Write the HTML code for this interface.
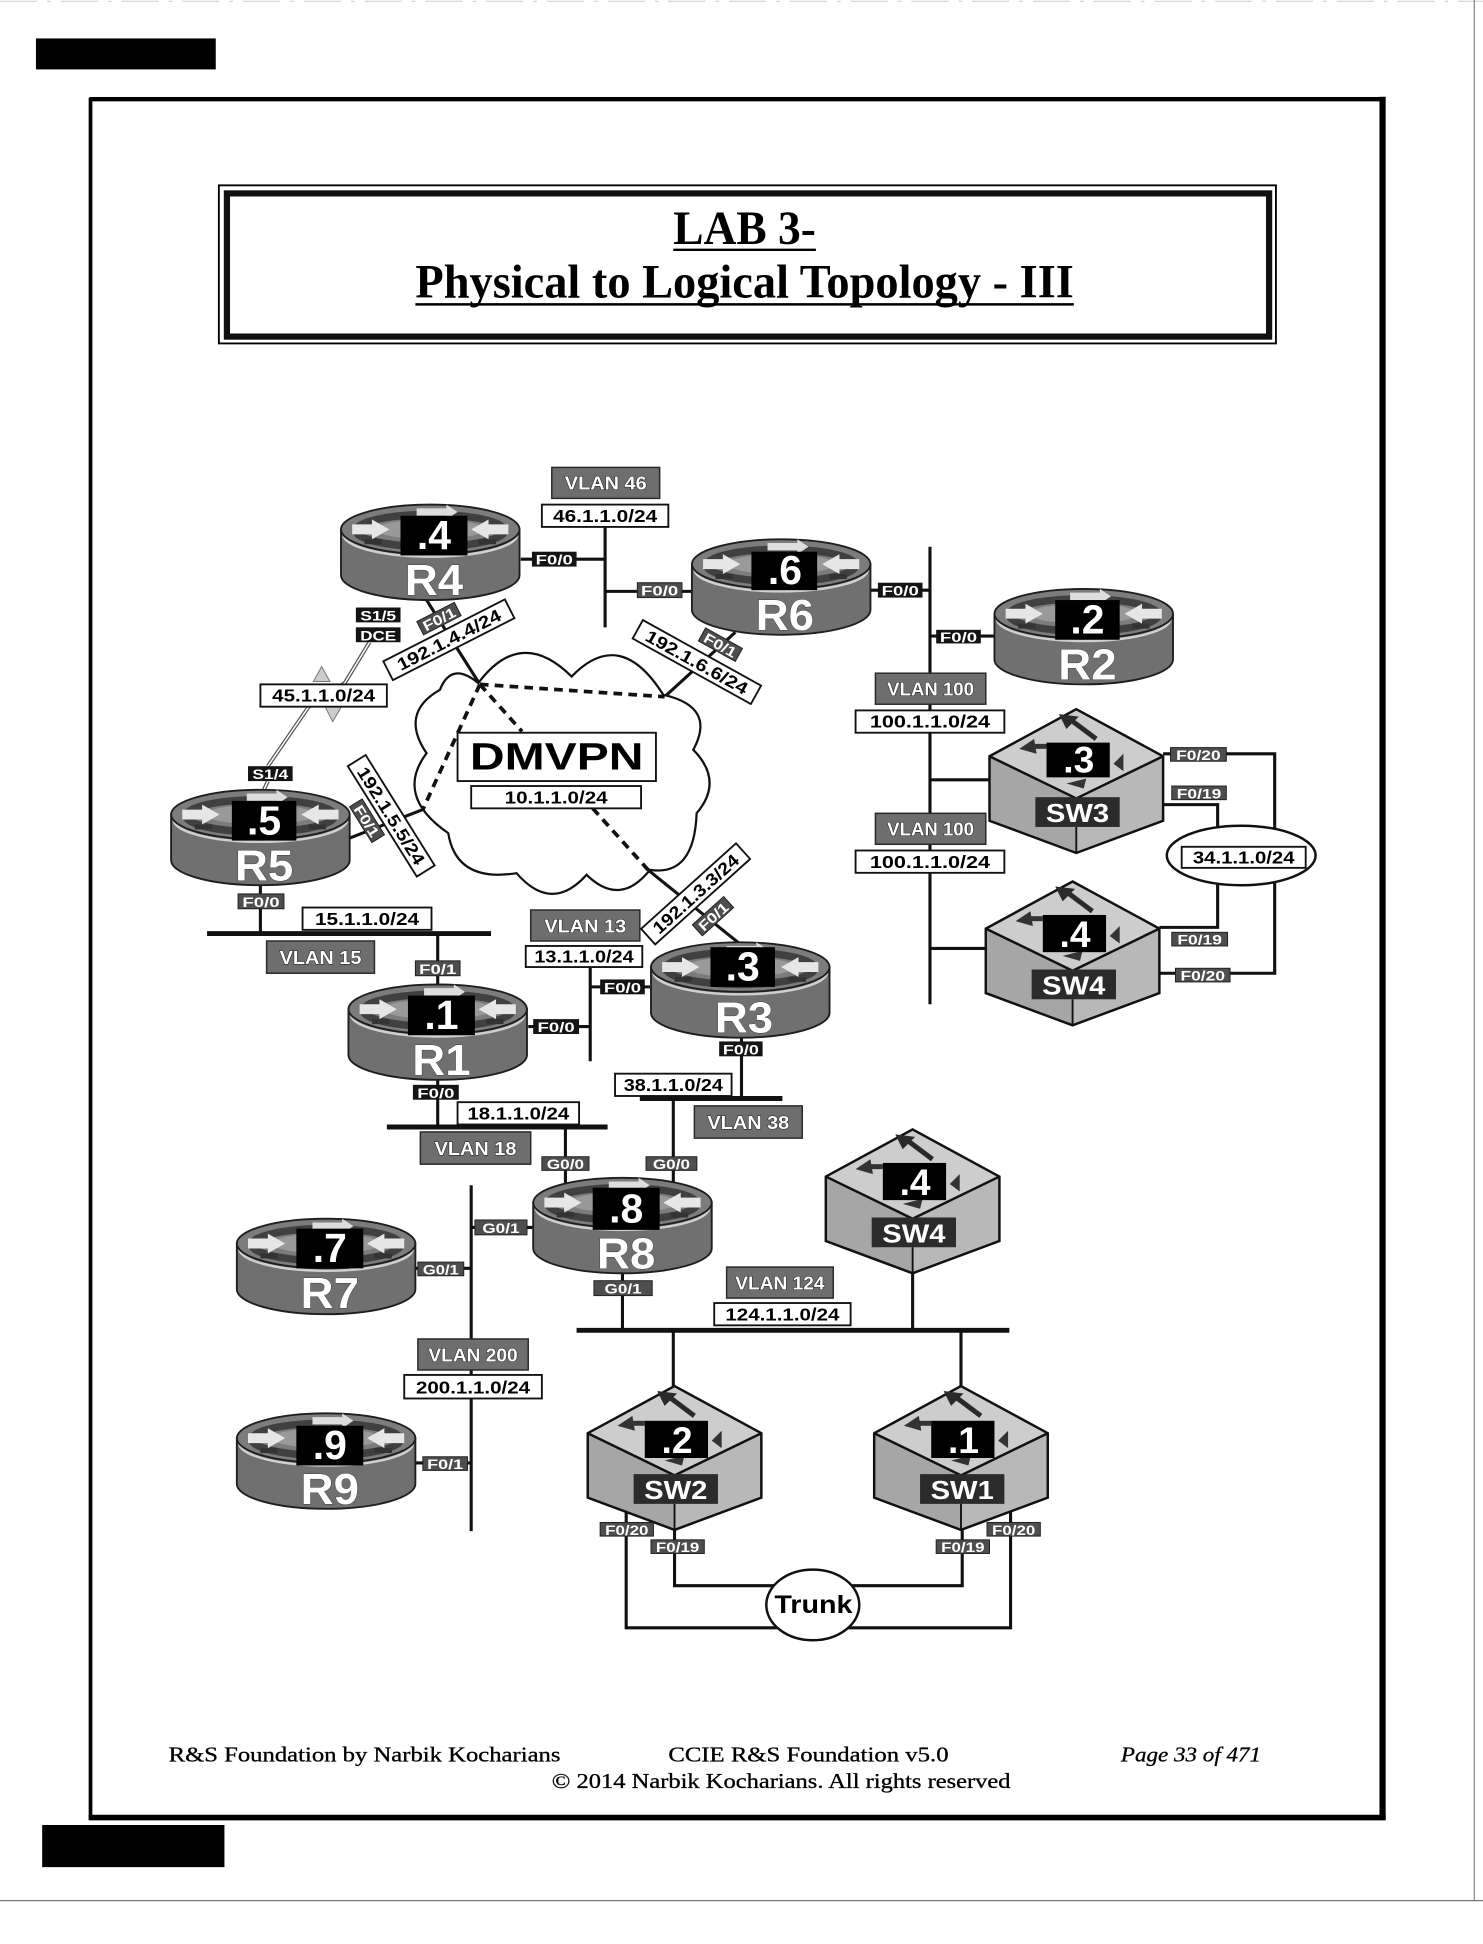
<!DOCTYPE html>
<html><head><meta charset="utf-8">
<style>
html,body{margin:0;padding:0;background:#fff;}
svg{display:block;}
text{font-family:"Liberation Sans",Arial,sans-serif;font-weight:bold;}
.serif{font-family:"Liberation Serif","Times New Roman",serif;}
.ft{font-family:"Liberation Serif","Times New Roman",serif;font-weight:normal;font-size:17px;fill:#000;stroke:#000;stroke-width:0.25px;}
.ifl{fill:#fff;font-size:11.5px;}
.sub{fill:#000;font-size:14px;}
.vl{fill:#fff;font-size:15px;stroke:#1a1a1a;stroke-width:0.8px;paint-order:stroke;}
.dot{fill:#fff;font-size:33px;}
.rn{fill:#fff;font-size:35px;stroke:#333;stroke-width:0.6px;paint-order:stroke;}
.sdot{fill:#fff;font-size:30px;}
.sn{fill:#fff;font-size:21px;}
.ln{stroke:#111;stroke-width:2.5;fill:none;}
.bus{stroke:#111;stroke-width:4;fill:none;}
.dash{stroke:#111;stroke-width:3;fill:none;stroke-dasharray:7 5;}
.wb{fill:#fff;stroke:#111;stroke-width:1.5;}
.gb{fill:#6e6e6e;stroke:#2a2a2a;stroke-width:1.2;}
.ib{fill:#141414;}
.ig{fill:#4e4e4e;stroke:#222;stroke-width:0.8;}
</style></head><body>
<svg width="1483" height="1944" viewBox="0 0 1196 1568" preserveAspectRatio="none" xmlns="http://www.w3.org/2000/svg" xmlns:xlink="http://www.w3.org/1999/xlink">
<defs>
<g id="rt">
 <path d="M1,20 V57 A72,20 0 0 0 145,57 V20 Z" fill="#707070" stroke="#1e1e1e" stroke-width="1.5"/>
 <path d="M3,24 A70,18 0 0 0 143,24" fill="none" stroke="#cfcfcf" stroke-width="2"/>
 <ellipse cx="73" cy="20" rx="72" ry="20" fill="#7c7c7c" stroke="#1e1e1e" stroke-width="1.5"/>
 <ellipse cx="73" cy="21" rx="60" ry="13" fill="none" stroke="#404040" stroke-width="6"/>
 <ellipse cx="73" cy="20" rx="44" ry="8" fill="#999"/>
 <polygon points="10,16 26,16 26,12 40,20 26,28 26,24 10,24" fill="#e6e6e6"/>
 <polygon points="136,16 120,16 120,12 106,20 120,28 120,24 136,24" fill="#e6e6e6"/>
 <polygon points="20,28 34,28 34,32 20,32" fill="#333"/>
 <polygon points="112,28 126,28 126,32 112,32" fill="#333"/>
 <polygon points="62,3 86,3 86,0 95,6 86,12 86,9 62,9" fill="#ddd"/>
</g>
<g id="sw">
 <polygon points="0,0 70,38 0,72 -70,38" fill="#cdcdcd"/>
 <polygon points="-70,38 0,72 0,116 -70,90" fill="#a6a6a6"/>
 <polygon points="0,72 70,38 70,90 0,116" fill="#b8b8b8"/>
 <polygon points="0,0 70,38 70,90 0,116 -70,90 -70,38" fill="none" stroke="#111" stroke-width="2"/>
 <polyline points="-70,38 0,72 70,38" fill="none" stroke="#111" stroke-width="2"/>
 <line x1="0" y1="95" x2="0" y2="116" stroke="#111" stroke-width="1.5"/>
 <line x1="-4" y1="9" x2="16" y2="24" stroke="#2a2a2a" stroke-width="4"/>
 <polygon points="-14,4 2,6 -8,16" fill="#2a2a2a"/>
 <polygon points="-46,32 -34,24 -32,36" fill="#333"/>
 <line x1="-36" y1="30" x2="-24" y2="30" stroke="#333" stroke-width="4"/>
 <polygon points="30,44 38,36 38,50" fill="#333"/>
 <polygon points="-8,60 8,56 6,64" fill="#333"/>
</g>
</defs>

<!-- page -->
<line x1="0" y1="1" x2="1196" y2="1" stroke="#ccc" stroke-width="0.8" stroke-dasharray="30 8 3 8"/>
<line x1="1189" y1="0" x2="1189" y2="1533" stroke="#888" stroke-width="1"/>
<line x1="0" y1="1533" x2="1196" y2="1533" stroke="#777" stroke-width="1"/>
<rect x="29" y="31" width="145" height="25" fill="#000"/>
<rect x="34" y="1472" width="147" height="34" fill="#000"/>
<line x1="73" y1="79" x2="73" y2="1467" stroke="#000" stroke-width="3"/>
<line x1="72" y1="80" x2="1117" y2="80" stroke="#000" stroke-width="3.5"/>
<line x1="1115" y1="78" x2="1115" y2="1468" stroke="#000" stroke-width="5"/>
<line x1="71.5" y1="1466" x2="1117.5" y2="1466" stroke="#000" stroke-width="4.5"/>

<!-- title -->
<rect x="176.5" y="149.5" width="852.5" height="127.5" fill="none" stroke="#000" stroke-width="1.5"/>
<rect x="183" y="156" width="840.5" height="115.5" fill="none" stroke="#111" stroke-width="5"/>
<text class="serif" x="600.5" y="197" font-size="38" text-anchor="middle" textLength="115" lengthAdjust="spacingAndGlyphs">LAB 3-</text>
<line x1="543" y1="201.5" x2="658" y2="201.5" stroke="#000" stroke-width="2"/>
<text class="serif" x="600.5" y="240" font-size="38" text-anchor="middle" textLength="531" lengthAdjust="spacingAndGlyphs">Physical to Logical Topology - III</text>
<line x1="335" y1="245.5" x2="866" y2="245.5" stroke="#000" stroke-width="2"/>

<!-- connectors -->
<path class="ln" d="M420,451 H488"/>
<path class="ln" d="M488,424 V506"/>
<path class="ln" d="M488,477 H558"/>
<path class="ln" d="M702,476 H750"/>
<path class="ln" d="M750,441 V810"/>
<path class="ln" d="M750,513 H802"/>
<path class="ln" d="M750,629 H798"/>
<path class="ln" d="M750,765 H796"/>
<path class="ln" d="M938,608 H1028 V785 H934"/>
<path class="ln" d="M938,649 H982 V670"/>
<path class="ln" d="M935,748 H982 V712"/>
<path class="ln" d="M344,484 L387,552"/>
<path class="ln" d="M593,510 L536,562"/>
<path class="ln" d="M282,676 L341,653"/>
<path class="ln" d="M523,702 L600,764"/>
<!-- serial -->
<path d="M298,518 L278,551 L249,570 L216,618 M216,630 L212,639" fill="none" stroke="#555" stroke-width="3.2"/>
<path d="M298,518 L278,551 L249,570 L216,618 M216,630 L212,639" fill="none" stroke="#fff" stroke-width="1.2"/>
<polygon points="252.7,549.7 259.4,537.6 266.1,549.7" fill="#ccc" stroke="#777" stroke-width="0.8"/>
<polygon points="262.1,569.9 268.3,582 275.5,569.9" fill="#ccc" stroke="#777" stroke-width="0.8"/>

<path class="ln" d="M210,712 V753"/>
<path class="bus" d="M167,753 H396"/>
<path class="ln" d="M353,753 V795"/>
<path class="ln" d="M426,828 H476"/>
<path class="ln" d="M476,780 V856"/>
<path class="ln" d="M476,796 H526"/>
<path class="ln" d="M598,836 V886"/>
<path class="bus" d="M516,886 H631"/>
<path class="ln" d="M353,871 V909"/>
<path class="bus" d="M312,909 H490"/>
<path class="ln" d="M456,909 V955"/>
<path class="ln" d="M543,886 V955"/>
<path class="ln" d="M380,956 V1235"/>
<path class="ln" d="M380,990 H430"/>
<path class="ln" d="M335,1023 H380"/>
<path class="ln" d="M335,1180 H380"/>
<path class="ln" d="M502,1027 V1073"/>
<path class="bus" d="M465,1073 H814"/>
<path class="ln" d="M736,1027 V1073"/>
<path class="ln" d="M543,1073 V1118"/>
<path class="ln" d="M775,1073 V1118"/>
<path class="ln" d="M505,1219 V1313 H815 V1219"/>
<path class="ln" d="M544,1234 V1279 H776 V1234"/>

<!-- cloud -->
<path d="M385.7,551 Q420,505 461,545.7 Q500,505 534.9,560.4 Q578,570 559.1,604.8 Q584,630 561.8,655.9 Q560,707 524.2,701.6 Q500,732 473.1,705.6 Q445,737 416.6,704.3 Q368,712 361.5,672 Q318,642 344,607.5 Q322,575 354.8,556.4 Q364,533 385.7,551 Z" fill="#fff" stroke="#111" stroke-width="1.8"/>
<path class="dash" d="M387,552 L536,562"/>
<path class="dash" d="M387,552 L341,653"/>
<path class="dash" d="M387,552 L421,590"/>
<path class="dash" d="M478,652 L523,702"/>
<rect x="369" y="591" width="160" height="39" class="wb"/>
<text x="449" y="620.5" font-size="31" text-anchor="middle" textLength="140" lengthAdjust="spacingAndGlyphs">DMVPN</text>
<rect x="380" y="634" width="137" height="18" class="wb"/>
<text class="sub" x="448.5" y="648" text-anchor="middle" textLength="83" lengthAdjust="spacingAndGlyphs">10.1.1.0/24</text>

<!-- ellipses -->
<ellipse cx="1001" cy="690" rx="60" ry="24" fill="#fff" stroke="#111" stroke-width="2"/>
<rect x="953" y="683" width="100" height="17" class="wb"/>
<text class="sub" x="1003" y="696.5" text-anchor="middle" textLength="82" lengthAdjust="spacingAndGlyphs">34.1.1.0/24</text>
<ellipse cx="655.5" cy="1294.5" rx="37.5" ry="28.5" fill="#fff" stroke="#111" stroke-width="2"/>
<text x="656" y="1301" font-size="20" text-anchor="middle" textLength="63" lengthAdjust="spacingAndGlyphs">Trunk</text>

<!-- routers -->
<use xlink:href="#rt" x="274" y="407"/>
<rect x="323" y="416" width="54" height="32" fill="#000"/>
<text class="dot" x="350" y="443" text-anchor="middle">.4</text>
<text class="rn" x="350" y="480" text-anchor="middle" textLength="47" lengthAdjust="spacingAndGlyphs">R4</text>

<use xlink:href="#rt" x="557" y="435"/>
<rect x="606" y="445" width="53" height="31" fill="#000"/>
<text class="dot" x="633" y="471" text-anchor="middle">.6</text>
<text class="rn" x="633" y="508" text-anchor="middle" textLength="47" lengthAdjust="spacingAndGlyphs">R6</text>

<use xlink:href="#rt" x="801" y="475"/>
<rect x="851" y="484" width="52" height="32" fill="#000"/>
<text class="dot" x="877" y="511" text-anchor="middle">.2</text>
<text class="rn" x="877" y="548" text-anchor="middle" textLength="47" lengthAdjust="spacingAndGlyphs">R2</text>

<use xlink:href="#rt" x="137" y="637"/>
<rect x="187" y="646" width="52" height="32" fill="#000"/>
<text class="dot" x="213" y="673" text-anchor="middle">.5</text>
<text class="rn" x="213" y="710" text-anchor="middle" textLength="47" lengthAdjust="spacingAndGlyphs">R5</text>

<use xlink:href="#rt" x="280" y="794"/>
<rect x="329" y="803" width="54" height="32" fill="#000"/>
<text class="dot" x="356" y="830" text-anchor="middle">.1</text>
<text class="rn" x="356" y="867" text-anchor="middle" textLength="47" lengthAdjust="spacingAndGlyphs">R1</text>

<use xlink:href="#rt" x="524" y="760"/>
<rect x="573" y="764" width="52" height="32" fill="#000"/>
<text class="dot" x="599" y="791" text-anchor="middle">.3</text>
<text class="rn" x="600" y="833" text-anchor="middle" textLength="47" lengthAdjust="spacingAndGlyphs">R3</text>

<use xlink:href="#rt" x="429" y="950"/>
<rect x="478" y="958" width="54" height="34" fill="#000"/>
<text class="dot" x="505" y="986" text-anchor="middle">.8</text>
<text class="rn" x="505" y="1023" text-anchor="middle" textLength="47" lengthAdjust="spacingAndGlyphs">R8</text>

<use xlink:href="#rt" x="190" y="983"/>
<rect x="239" y="991" width="54" height="32" fill="#000"/>
<text class="dot" x="266" y="1018" text-anchor="middle">.7</text>
<text class="rn" x="266" y="1055" text-anchor="middle" textLength="47" lengthAdjust="spacingAndGlyphs">R7</text>

<use xlink:href="#rt" x="190" y="1140"/>
<rect x="239" y="1150" width="54" height="32" fill="#000"/>
<text class="dot" x="266" y="1177" text-anchor="middle">.9</text>
<text class="rn" x="266" y="1213" text-anchor="middle" textLength="47" lengthAdjust="spacingAndGlyphs">R9</text>

<!-- switches -->
<use xlink:href="#sw" x="868" y="572"/>
<rect x="844" y="599" width="51" height="28" fill="#000"/>
<text class="sdot" x="870" y="623" text-anchor="middle">.3</text>
<rect x="835" y="643" width="68" height="24" fill="#2b2b2b"/>
<text class="sn" x="869" y="663" text-anchor="middle" textLength="51" lengthAdjust="spacingAndGlyphs">SW3</text>

<use xlink:href="#sw" x="865" y="711"/>
<rect x="841" y="738" width="51" height="30" fill="#000"/>
<text class="sdot" x="867" y="764" text-anchor="middle">.4</text>
<rect x="832" y="782" width="68" height="24" fill="#2b2b2b"/>
<text class="sn" x="866" y="802" text-anchor="middle" textLength="51" lengthAdjust="spacingAndGlyphs">SW4</text>

<use xlink:href="#sw" x="736" y="911"/>
<rect x="712" y="938" width="51" height="30" fill="#000"/>
<text class="sdot" x="738" y="964" text-anchor="middle">.4</text>
<rect x="703" y="982" width="68" height="24" fill="#2b2b2b"/>
<text class="sn" x="737" y="1002" text-anchor="middle" textLength="51" lengthAdjust="spacingAndGlyphs">SW4</text>

<use xlink:href="#sw" x="544" y="1118"/>
<rect x="520" y="1146" width="51" height="30" fill="#000"/>
<text class="sdot" x="546" y="1172" text-anchor="middle">.2</text>
<rect x="511" y="1189" width="68" height="24" fill="#2b2b2b"/>
<text class="sn" x="545" y="1209" text-anchor="middle" textLength="51" lengthAdjust="spacingAndGlyphs">SW2</text>

<use xlink:href="#sw" x="775" y="1118"/>
<rect x="751" y="1146" width="51" height="30" fill="#000"/>
<text class="sdot" x="777" y="1172" text-anchor="middle">.1</text>
<rect x="742" y="1189" width="68" height="24" fill="#2b2b2b"/>
<text class="sn" x="776" y="1209" text-anchor="middle" textLength="51" lengthAdjust="spacingAndGlyphs">SW1</text>

<!-- subnet boxes -->
<rect x="437" y="407" width="102" height="18" class="wb"/><text class="sub" x="488" y="421" text-anchor="middle" textLength="84" lengthAdjust="spacingAndGlyphs">46.1.1.0/24</text>
<rect x="210" y="552" width="102" height="18" class="wb"/><text class="sub" x="261" y="566" text-anchor="middle" textLength="83" lengthAdjust="spacingAndGlyphs">45.1.1.0/24</text>
<rect x="690" y="573" width="120" height="18" class="wb"/><text class="sub" x="750" y="587" text-anchor="middle" textLength="97" lengthAdjust="spacingAndGlyphs">100.1.1.0/24</text>
<rect x="690" y="686" width="120" height="18" class="wb"/><text class="sub" x="750" y="700" text-anchor="middle" textLength="97" lengthAdjust="spacingAndGlyphs">100.1.1.0/24</text>
<rect x="244" y="732" width="104" height="18" class="wb"/><text class="sub" x="296" y="746" text-anchor="middle" textLength="84" lengthAdjust="spacingAndGlyphs">15.1.1.0/24</text>
<rect x="424" y="763" width="94" height="17" class="wb"/><text class="sub" x="471" y="776.5" text-anchor="middle" textLength="80" lengthAdjust="spacingAndGlyphs">13.1.1.0/24</text>
<rect x="496" y="866" width="94" height="18" class="wb"/><text class="sub" x="543" y="880" text-anchor="middle" textLength="80" lengthAdjust="spacingAndGlyphs">38.1.1.0/24</text>
<rect x="369" y="889" width="98" height="18" class="wb"/><text class="sub" x="418" y="903" text-anchor="middle" textLength="82" lengthAdjust="spacingAndGlyphs">18.1.1.0/24</text>
<rect x="576" y="1051" width="110" height="18" class="wb"/><text class="sub" x="631" y="1065" text-anchor="middle" textLength="92" lengthAdjust="spacingAndGlyphs">124.1.1.0/24</text>
<rect x="326" y="1109" width="111" height="19" class="wb"/><text class="sub" x="381.5" y="1124" text-anchor="middle" textLength="92" lengthAdjust="spacingAndGlyphs">200.1.1.0/24</text>

<!-- VLAN labels -->
<rect x="445" y="377" width="87" height="25" class="gb"/><text class="vl" x="488.5" y="395" text-anchor="middle" textLength="66" lengthAdjust="spacingAndGlyphs">VLAN 46</text>
<rect x="706" y="543" width="89" height="25" class="gb"/><text class="vl" x="750.5" y="561" text-anchor="middle" textLength="70" lengthAdjust="spacingAndGlyphs">VLAN 100</text>
<rect x="706" y="656" width="89" height="25" class="gb"/><text class="vl" x="750.5" y="674" text-anchor="middle" textLength="70" lengthAdjust="spacingAndGlyphs">VLAN 100</text>
<rect x="215" y="759" width="87" height="26" class="gb"/><text class="vl" x="258.5" y="777.5" text-anchor="middle" textLength="66" lengthAdjust="spacingAndGlyphs">VLAN 15</text>
<rect x="428" y="734" width="88" height="25" class="gb"/><text class="vl" x="472" y="752" text-anchor="middle" textLength="66" lengthAdjust="spacingAndGlyphs">VLAN 13</text>
<rect x="339" y="913" width="89" height="26" class="gb"/><text class="vl" x="383.5" y="931.5" text-anchor="middle" textLength="66" lengthAdjust="spacingAndGlyphs">VLAN 18</text>
<rect x="560" y="892" width="87" height="26" class="gb"/><text class="vl" x="603.5" y="910.5" text-anchor="middle" textLength="66" lengthAdjust="spacingAndGlyphs">VLAN 38</text>
<rect x="586" y="1022" width="86" height="25" class="gb"/><text class="vl" x="629" y="1040" text-anchor="middle" textLength="72" lengthAdjust="spacingAndGlyphs">VLAN 124</text>
<rect x="337" y="1080" width="89" height="25" class="gb"/><text class="vl" x="381.5" y="1098" text-anchor="middle" textLength="72" lengthAdjust="spacingAndGlyphs">VLAN 200</text>

<!-- interface labels -->
<rect x="429" y="445" width="36" height="12" class="ib"/><text class="ifl" x="447" y="455.5" text-anchor="middle" textLength="30" lengthAdjust="spacingAndGlyphs">F0/0</text>
<rect x="514" y="470" width="36" height="12" class="ig"/><text class="ifl" x="532" y="480.5" text-anchor="middle" textLength="30" lengthAdjust="spacingAndGlyphs">F0/0</text>
<rect x="708" y="470" width="36" height="12" class="ib"/><text class="ifl" x="726" y="480.5" text-anchor="middle" textLength="30" lengthAdjust="spacingAndGlyphs">F0/0</text>
<rect x="755" y="508" width="36" height="11" class="ib"/><text class="ifl" x="773" y="518" text-anchor="middle" textLength="30" lengthAdjust="spacingAndGlyphs">F0/0</text>
<rect x="287" y="490" width="36" height="12" class="ib"/><text class="ifl" x="305" y="500.5" text-anchor="middle" textLength="29" lengthAdjust="spacingAndGlyphs">S1/5</text>
<rect x="287" y="506" width="36" height="12" class="ib"/><text class="ifl" x="305" y="516.5" text-anchor="middle" textLength="29" lengthAdjust="spacingAndGlyphs">DCE</text>
<rect x="200" y="618" width="36" height="12" class="ib"/><text class="ifl" x="218" y="628.5" text-anchor="middle" textLength="29" lengthAdjust="spacingAndGlyphs">S1/4</text>
<rect x="192" y="721" width="37" height="12" class="ig"/><text class="ifl" x="210.5" y="731.5" text-anchor="middle" textLength="30" lengthAdjust="spacingAndGlyphs">F0/0</text>
<rect x="335" y="775" width="36" height="12" class="ig"/><text class="ifl" x="353" y="785.5" text-anchor="middle" textLength="30" lengthAdjust="spacingAndGlyphs">F0/1</text>
<rect x="430" y="822" width="37" height="12" class="ib"/><text class="ifl" x="448.5" y="832.5" text-anchor="middle" textLength="30" lengthAdjust="spacingAndGlyphs">F0/0</text>
<rect x="484" y="790" width="36" height="12" class="ib"/><text class="ifl" x="502" y="800.5" text-anchor="middle" textLength="30" lengthAdjust="spacingAndGlyphs">F0/0</text>
<rect x="580" y="840" width="35" height="12" class="ib"/><text class="ifl" x="597.5" y="850.5" text-anchor="middle" textLength="29" lengthAdjust="spacingAndGlyphs">F0/0</text>
<rect x="333" y="875" width="37" height="12" class="ib"/><text class="ifl" x="351.5" y="885.5" text-anchor="middle" textLength="30" lengthAdjust="spacingAndGlyphs">F0/0</text>
<rect x="437" y="933" width="38" height="11" class="ig"/><text class="ifl" x="456" y="943" text-anchor="middle" textLength="30" lengthAdjust="spacingAndGlyphs">G0/0</text>
<rect x="521" y="933" width="41" height="11" class="ig"/><text class="ifl" x="541.5" y="943" text-anchor="middle" textLength="30" lengthAdjust="spacingAndGlyphs">G0/0</text>
<rect x="383" y="984" width="42" height="12" class="ig"/><text class="ifl" x="404" y="994.5" text-anchor="middle" textLength="30" lengthAdjust="spacingAndGlyphs">G0/1</text>
<rect x="337" y="1018" width="37" height="11" class="ig"/><text class="ifl" x="355.5" y="1028" text-anchor="middle" textLength="29" lengthAdjust="spacingAndGlyphs">G0/1</text>
<rect x="479" y="1033" width="47" height="12" class="ig"/><text class="ifl" x="502.5" y="1043.5" text-anchor="middle" textLength="30" lengthAdjust="spacingAndGlyphs">G0/1</text>
<rect x="341" y="1175" width="36" height="11" class="ig"/><text class="ifl" x="359" y="1185" text-anchor="middle" textLength="29" lengthAdjust="spacingAndGlyphs">F0/1</text>
<rect x="944" y="603" width="45" height="11" class="ig"/><text class="ifl" x="966.5" y="613" text-anchor="middle" textLength="36" lengthAdjust="spacingAndGlyphs">F0/20</text>
<rect x="945" y="634" width="44" height="11" class="ig"/><text class="ifl" x="967" y="644" text-anchor="middle" textLength="36" lengthAdjust="spacingAndGlyphs">F0/19</text>
<rect x="945" y="752" width="45" height="11" class="ig"/><text class="ifl" x="967.5" y="762" text-anchor="middle" textLength="36" lengthAdjust="spacingAndGlyphs">F0/19</text>
<rect x="948" y="781" width="44" height="11" class="ig"/><text class="ifl" x="970" y="791" text-anchor="middle" textLength="36" lengthAdjust="spacingAndGlyphs">F0/20</text>
<rect x="484" y="1228" width="43" height="11" class="ig"/><text class="ifl" x="505.5" y="1238" text-anchor="middle" textLength="35" lengthAdjust="spacingAndGlyphs">F0/20</text>
<rect x="525" y="1242" width="43" height="11" class="ig"/><text class="ifl" x="546.5" y="1252" text-anchor="middle" textLength="35" lengthAdjust="spacingAndGlyphs">F0/19</text>
<rect x="755" y="1242" width="43" height="11" class="ig"/><text class="ifl" x="776.5" y="1252" text-anchor="middle" textLength="35" lengthAdjust="spacingAndGlyphs">F0/19</text>
<rect x="796" y="1228" width="43" height="11" class="ig"/><text class="ifl" x="817.5" y="1238" text-anchor="middle" textLength="35" lengthAdjust="spacingAndGlyphs">F0/20</text>

<!-- rotated labels -->
<g transform="translate(362,516) rotate(-27)">
 <rect x="-55" y="-8.5" width="110" height="17" class="wb"/>
 <text class="sub" x="0" y="5" text-anchor="middle" textLength="92" lengthAdjust="spacingAndGlyphs">192.1.4.4/24</text>
</g>
<g transform="translate(354,499) rotate(-27)">
 <rect x="-17" y="-6" width="34" height="12" class="ig"/>
 <text class="ifl" x="0" y="4.5" text-anchor="middle" textLength="28" lengthAdjust="spacingAndGlyphs">F0/1</text>
</g>
<g transform="translate(562,534) rotate(29)">
 <rect x="-54.5" y="-8.5" width="109" height="17" class="wb"/>
 <text class="sub" x="0" y="5" text-anchor="middle" textLength="92" lengthAdjust="spacingAndGlyphs">192.1.6.6/24</text>
</g>
<g transform="translate(581,520) rotate(29)">
 <rect x="-17" y="-6" width="34" height="12" class="ig"/>
 <text class="ifl" x="0" y="4.5" text-anchor="middle" textLength="28" lengthAdjust="spacingAndGlyphs">F0/1</text>
</g>
<g transform="translate(315.5,658) rotate(58)">
 <rect x="-52.5" y="-8.5" width="105" height="17" class="wb"/>
 <text class="sub" x="0" y="5" text-anchor="middle" textLength="90" lengthAdjust="spacingAndGlyphs">192.1.5.5/24</text>
</g>
<g transform="translate(296,662) rotate(58)">
 <rect x="-17" y="-6" width="34" height="12" class="ig"/>
 <text class="ifl" x="0" y="4.5" text-anchor="middle" textLength="28" lengthAdjust="spacingAndGlyphs">F0/1</text>
</g>
<g transform="translate(561,721) rotate(-42)">
 <rect x="-51.5" y="-8.5" width="103" height="17" class="wb"/>
 <text class="sub" x="0" y="5" text-anchor="middle" textLength="88" lengthAdjust="spacingAndGlyphs">192.1.3.3/24</text>
</g>
<g transform="translate(575,739) rotate(-42)">
 <rect x="-17" y="-6" width="34" height="12" class="ig"/>
 <text class="ifl" x="0" y="4.5" text-anchor="middle" textLength="28" lengthAdjust="spacingAndGlyphs">F0/1</text>
</g>

<!-- footer -->
<text class="ft" x="136" y="1421" textLength="316" lengthAdjust="spacingAndGlyphs">R&amp;S Foundation by Narbik Kocharians</text>
<text class="ft" x="539" y="1421" textLength="226" lengthAdjust="spacingAndGlyphs">CCIE R&amp;S Foundation v5.0</text>
<text class="ft" x="904" y="1421" style="font-style:italic" textLength="113" lengthAdjust="spacingAndGlyphs">Page 33 of 471</text>
<text class="ft" x="445" y="1442" textLength="370" lengthAdjust="spacingAndGlyphs">© 2014 Narbik Kocharians. All rights reserved</text>
</svg>
</body></html>
